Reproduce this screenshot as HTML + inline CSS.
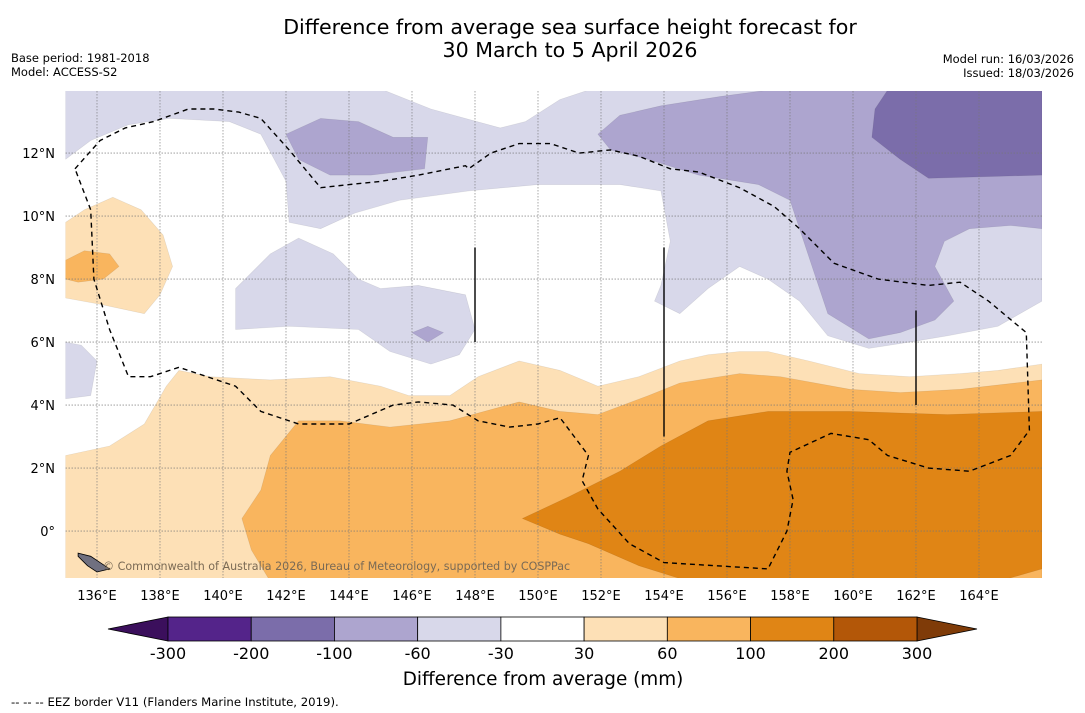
<!DOCTYPE html>
<html><head><meta charset="utf-8"><style>
body{margin:0;background:#fff;width:1085px;height:713px;overflow:hidden;font-family:"Liberation Sans","DejaVu Sans",sans-serif}
svg{position:absolute;left:0;top:0}
</style></head><body>
<svg id="chart" width="1085" height="713" font-family="DejaVu Sans, Liberation Sans, sans-serif">
<text x="570" y="34" text-anchor="middle" font-size="20.6">Difference from average sea surface height forecast for</text>
<text x="570" y="57" text-anchor="middle" font-size="20.6">30 March to 5 April 2026</text>
<text x="11" y="62" font-size="11.5">Base period: 1981-2018</text>
<text x="11" y="76" font-size="11.5">Model: ACCESS-S2</text>
<text x="1074" y="63" font-size="11.5" text-anchor="end">Model run: 16/03/2026</text>
<text x="1074" y="77" font-size="11.5" text-anchor="end">Issued: 18/03/2026</text>
<g id="map"></g>
<g id="cbar"></g>
<text x="543" y="685" text-anchor="middle" font-size="18.4">Difference from average (mm)</text>
<text x="11" y="706" font-size="11.7">--  --  -- EEZ border V11 (Flanders Marine Institute, 2019).</text>
</svg>
<script>
const lonTicks=[136,138,140,142,144,146,148,150,152,154,156,158,160,162,164];
const latTicks=[0,2,4,6,8,10,12];
const cbarLevels=["-300","-200","-100","-60","-30","30","60","100","200","300"];
const cbarColors=["#54248a","#7b6daa","#ada5cf","#d8d8ea","#ffffff","#fde0b6","#f9b55e","#e08515","#b35708"];
const lowColor="#3b0f5c", highColor="#7f3b08";
// contour regions [lon,lat]
const lightPurple1=[[135,14],[145.1,14],[146.6,13.4],[148.8,12.8],[149.6,13],[150.7,13.7],[151.6,14],[166,14],[166,7.3],[164.6,6.5],[163,6.2],[161.8,6],[160.5,5.8],[159.2,6.2],[158.3,7.3],[157.3,8],[156.4,8.4],[155.4,7.7],[154.5,6.9],[153.7,7.3],[153.9,7.8],[154.2,9.2],[153.9,10.8],[152.6,11],[150,11],[147.8,10.8],[145.6,10.5],[144.2,10.1],[143.1,9.6],[142.1,9.8],[142,11.1],[141.2,12.6],[140.2,13],[138.3,13.1],[137,12.9],[135.8,12.4],[135,11.8]];
const lightPurple2=[[135,6],[135.5,5.9],[136,5.4],[135.8,4.3],[135,4.2]];
const lightPurple3=[[140.4,7.7],[141.5,8.8],[142.4,9.3],[143.5,8.8],[144.3,8],[145,7.7],[146.2,7.8],[147.7,7.5],[148,6.4],[147.5,5.6],[146.6,5.3],[145.3,5.7],[144.3,6.4],[142.1,6.5],[140.4,6.4]];
const midPurple1=[[157.3,14],[166,14],[166,9.6],[165,9.7],[163.7,9.6],[162.9,9.2],[162.6,8.4],[163.2,7.3],[162.6,6.7],[161.5,6.3],[160.5,6.1],[159.2,6.9],[158.8,8.1],[158.3,9.6],[158,10.5],[157,11],[155.1,11.3],[153.5,11.8],[152.3,12.1],[151.9,12.6],[152.6,13.2],[153.9,13.5],[155.8,13.8]];
const midPurple2=[[142,12.6],[143.1,13.1],[144.3,13],[145.4,12.5],[146.5,12.5],[146.4,11.5],[144.7,11.3],[143.4,11.3],[142.4,11.8]];
const midPurple3=[[146,6.3],[146.5,6.5],[147,6.3],[146.5,6.0]];
const darkPurple=[[161.1,14],[166,14],[166,11.3],[162.4,11.2],[161.5,11.8],[160.6,12.5],[160.7,13.4]];
const lightOrange1=[[135,9.8],[135.6,10.2],[136.5,10.6],[137.4,10.2],[138.1,9.4],[138.4,8.4],[138,7.5],[137.5,6.9],[136.1,7.2],[135,7.4]];
const midOrange1=[[135,8.6],[135.6,8.9],[136.4,8.8],[136.7,8.4],[136.2,8],[135.4,7.9],[135,8]];
const lightOrange2=[[135,2.4],[136.4,2.7],[137.5,3.4],[138.2,4.6],[138.6,5.1],[139.6,4.9],[141.5,4.8],[143.4,4.9],[145,4.6],[145.9,4.3],[147.2,4.3],[148.1,4.9],[149.4,5.4],[150.7,5.1],[151.9,4.6],[153.2,4.9],[154.5,5.4],[155.4,5.6],[156.4,5.7],[157.3,5.7],[158.6,5.4],[160.2,5],[161.8,4.9],[163.4,5],[164.6,5.1],[166,5.3],[166,-1.6],[135,-1.6]];
const midOrange2=[[140.6,0.4],[141.2,1.3],[141.5,2.4],[142.4,3.5],[143.7,3.5],[145.3,3.3],[147.2,3.5],[149.4,4.1],[150.7,3.8],[151.9,3.7],[153.5,4.3],[154.5,4.7],[156.4,5],[157.7,4.9],[159.9,4.5],[161.5,4.4],[163.4,4.5],[166,4.8],[166,-1.6],[141.5,-1.6],[140.9,-0.6]];
const darkOrange=[[149.5,0.4],[151,1.1],[152.6,1.9],[153.9,2.7],[155.4,3.5],[157.3,3.8],[159.9,3.8],[163,3.7],[166,3.8],[166,-1.2],[164.6,-1.6],[154.8,-1.6],[153.2,-1.1],[151.6,-0.4],[150.7,-0.1]];
const eez=[[135.3,11.5],[136.1,12.4],[136.9,12.8],[137.8,13],[138.9,13.4],[139.7,13.4],[140.5,13.3],[141.2,13.1],[142.1,12.1],[143.1,10.9],[144,11],[145,11.1],[146.2,11.3],[147.7,11.6],[147.8,11.5],[148.5,12],[149.4,12.3],[150.4,12.3],[151.3,12],[152.3,12.1],[153.2,11.9],[154.2,11.5],[155.1,11.4],[156.4,10.9],[157.5,10.3],[158.3,9.6],[159.4,8.5],[160.8,8],[162.4,7.8],[163.4,7.9],[164.3,7.3],[165.5,6.3],[165.6,3.2],[165,2.4],[163.7,1.9],[162.4,2],[161.1,2.4],[160.5,2.9],[159.3,3.1],[158,2.5],[157.9,1.9],[158.1,1],[157.9,0],[157.3,-1.2],[154,-1],[152.9,-0.4],[151.9,0.7],[151.4,1.6],[151.6,2.4],[151,3.2],[150.7,3.6],[150,3.4],[149.1,3.3],[148.1,3.5],[147.3,4],[146.2,4.1],[145.4,4],[144,3.4],[142.4,3.4],[141.2,3.8],[140.4,4.6],[138.6,5.2],[137.7,4.9],[137,4.9],[136.4,6.4],[135.9,8],[135.8,10.2],[135.3,11.5]];
const eezVerticals=[[148,9,6],[154,9,3],[162,7,4]];

const NS="http://www.w3.org/2000/svg";
const X0=65.5,Y0=91,X1=1042,Y1=578;
const LON0=135,LON1=166,LAT0=-1.49,LAT1=13.97;
const X=lon=>X0+(lon-LON0)/(LON1-LON0)*(X1-X0);
const Y=lat=>Y1-(lat-LAT0)/(LAT1-LAT0)*(Y1-Y0);
function mk(tag,attrs,parent){const e=document.createElementNS(NS,tag);for(const k in attrs)e.setAttribute(k,attrs[k]);parent.appendChild(e);return e;}
const map=document.getElementById('map');
const defs=mk('defs',{},map);
const cp=mk('clipPath',{id:'clip'},defs);
mk('rect',{x:X0,y:Y0,width:X1-X0,height:Y1-Y0},cp);
const bg=mk('rect',{x:X0,y:Y0,width:X1-X0,height:Y1-Y0,fill:'#fff'},map);


const g=mk('g',{'clip-path':'url(#clip)'},map);
const pts=a=>a.map(p=>X(p[0]).toFixed(1)+','+Y(p[1]).toFixed(1)).join(' ');
const regions=[[lightPurple1,cbarColors[3],'contour-minus60-minus30-north'],[lightPurple2,cbarColors[3],'contour-minus60-minus30-west'],[lightPurple3,cbarColors[3],'contour-minus60-minus30-central'],[midPurple1,cbarColors[2],'contour-minus100-minus60-east'],[midPurple2,cbarColors[2],'contour-minus100-minus60-north'],[midPurple3,cbarColors[2],'contour-minus100-minus60-small'],[darkPurple,cbarColors[1],'contour-minus200-minus100'],[lightOrange1,cbarColors[5],'contour-30-60-west'],[midOrange1,cbarColors[6],'contour-60-100-west'],[lightOrange2,cbarColors[5],'contour-30-60-south'],[midOrange2,cbarColors[6],'contour-60-100-south'],[darkOrange,cbarColors[7],'contour-100-200']];
regions.forEach(r=>{const p=mk('polygon',{points:pts(r[0]),fill:r[1],stroke:'#00000018','stroke-width':0.6},g);

});
lonTicks.forEach(l=>{const ln=mk('line',{x1:X(l),x2:X(l),y1:Y0,y2:Y1,stroke:'#777','stroke-width':0.8,'stroke-dasharray':'1.5,1.5','stroke-opacity':0.8},g);


const t=mk('text',{x:X(l),y:600,'text-anchor':'middle','font-size':13},map);t.textContent=l+'°E';

});
latTicks.forEach(l=>{const ln=mk('line',{x1:X0,x2:X1,y1:Y(l),y2:Y(l),stroke:'#777','stroke-width':0.8,'stroke-dasharray':'1.5,1.5','stroke-opacity':0.8},g);


const t=mk('text',{x:55,y:Y(l)+5,'text-anchor':'end','font-size':13},map);t.textContent=l===0?'0°':l+'°N';

});
const e=mk('polyline',{points:pts(eez),fill:'none',stroke:'#000','stroke-width':1.4,'stroke-dasharray':'5,4'},g);


eezVerticals.forEach(v=>{const l=mk('line',{x1:X(v[0]),x2:X(v[0]),y1:Y(v[1]),y2:Y(v[2]),stroke:'#000','stroke-width':1.4},g);

});
const isl=mk('polygon',{points:pts([[135.4,-0.7],[135.8,-0.8],[136.1,-1],[136.4,-1.2],[136,-1.3],[135.7,-1.1],[135.4,-0.8]]),fill:'#707080',stroke:'#000','stroke-width':0.8},g);


const cr=mk('text',{x:103,y:570,'font-size':11.1,fill:'#7a6a55'},map);cr.textContent='© Commonwealth of Australia 2026, Bureau of Meteorology, supported by COSPPac';


// colorbar
const cb=document.getElementById('cbar');
const cx0=168,cx1=917,cy=617,ch=24,n=cbarColors.length,w=(cx1-cx0)/n;
const lt=mk('polygon',{points:`${cx0},${cy} 108,${cy+ch/2} ${cx0},${cy+ch}`,fill:lowColor,stroke:'#000','stroke-width':0.8},cb);


const rt=mk('polygon',{points:`${cx1},${cy} 977,${cy+ch/2} ${cx1},${cy+ch}`,fill:highColor,stroke:'#000','stroke-width':0.8},cb);


cbarColors.forEach((c,i)=>{const r=mk('rect',{x:cx0+i*w,y:cy,width:w,height:ch,fill:c,stroke:'#000','stroke-width':0.8},cb);

});
cbarLevels.forEach((s,i)=>{const t=mk('text',{x:cx0+i*w,y:659,'text-anchor':'middle','font-size':16},cb);t.textContent=s;

});
</script>
</body></html>
